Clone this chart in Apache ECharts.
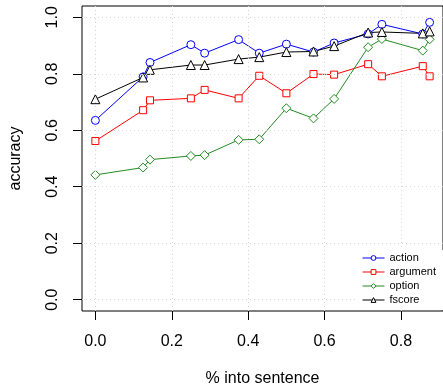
<!DOCTYPE html>
<html>
<head>
<meta charset="utf-8">
<script src="https://cdn.jsdelivr.net/npm/echarts@6/dist/echarts.min.js"></script>
<style>
  html, body { margin: 0; padding: 0; background: #fff; }
  #chart { width: 443px; height: 392px; }
</style>
</head>
<body>
<div id="chart"></div>
<script>
// position in sentence (fraction of words)
const positions = [0, 0.125, 0.143, 0.25, 0.286, 0.375, 0.429, 0.5, 0.571, 0.625, 0.714, 0.75, 0.857, 0.875];

const actionAcc   = [0.635, 0.789, 0.840, 0.903, 0.873, 0.921, 0.873, 0.905, 0.877, 0.909, 0.941, 0.975, 0.941, 0.982];
const argumentAcc = [0.562, 0.671, 0.706, 0.713, 0.743, 0.713, 0.793, 0.731, 0.799, 0.797, 0.834, 0.791, 0.827, 0.791];
const optionAcc   = [0.442, 0.468, 0.496, 0.509, 0.512, 0.566, 0.568, 0.678, 0.642, 0.711, 0.894, 0.923, 0.882, 0.922];
const fscoreAcc   = [0.710, 0.787, 0.814, 0.831, 0.831, 0.852, 0.859, 0.877, 0.879, 0.898, 0.946, 0.948, 0.943, 0.950];

const xTicks = [0, 0.2, 0.4, 0.6, 0.8];
const yTicks = [0, 0.2, 0.4, 0.6, 0.8, 1.0];

const font = 'Liberation Sans, Arial, sans-serif';

const chart = echarts.init(document.getElementById('chart'));

function pairs(ys) {
  return positions.map((x, i) => [x, ys[i]]);
}

function lineSeries(name, ys, color, symbol, size) {
  return {
    name: name,
    type: 'line',
    data: pairs(ys),
    symbol: symbol,
    symbolSize: size,
    showAllSymbol: true,
    lineStyle: { color: color, width: 1 },
    itemStyle: { color: '#fff', borderColor: color, borderWidth: 1 },
    emphasis: { disabled: true },
    z: 3
  };
}

const gridLine = { color: '#d3d3d3', width: 1, type: [1, 3] };

const option = {
  animation: false,
  backgroundColor: '#fff',
  grid: {
    left: 81,
    top: 6,
    width: 364,
    height: 306,
    show: true,
    borderColor: '#000',
    borderWidth: 1
  },
  legend: {
    data: ['action', 'argument', 'option', 'fscore'],
    orient: 'vertical',
    left: 358,
    top: 250,
    itemWidth: 22,
    itemHeight: 6,
    itemGap: 2,
    padding: [2, 8, 4, 4],
    backgroundColor: '#fff',
    itemStyle: { borderWidth: 1 },
    lineStyle: { width: 1 },
    textStyle: { fontFamily: font, fontSize: 11, color: '#000', lineHeight: 12 },
    z: 10
  },
  xAxis: {
    type: 'value',
    min: -0.035,
    max: 0.91,
    name: '% into sentence',
    nameLocation: 'middle',
    nameGap: 60,
    nameTextStyle: { fontFamily: font, fontSize: 16, color: '#000' },
    axisLine: { show: false, onZero: false },
    axisTick: { show: true, customValues: xTicks, length: 9, lineStyle: { color: '#000' } },
    axisLabel: {
      customValues: xTicks,
      formatter: v => v.toFixed(1),
      margin: 23,
      fontFamily: font, fontSize: 16, color: '#000'
    },
    splitLine: { show: false }
  },
  yAxis: {
    type: 'value',
    min: -0.04,
    max: 1.04,
    name: 'accuracy',
    nameLocation: 'middle',
    nameRotate: 90,
    nameGap: 58,
    nameTextStyle: { fontFamily: font, fontSize: 16, color: '#000' },
    axisLine: { show: false, onZero: false },
    axisTick: { show: true, customValues: yTicks, length: 9, lineStyle: { color: '#000' } },
    axisLabel: {
      customValues: yTicks,
      formatter: v => v.toFixed(1),
      rotate: 90,
      margin: 21,
      fontFamily: font, fontSize: 16, color: '#000'
    },
    splitLine: { show: false }
  },
  series: [
    {
      name: 'grid',
      type: 'line',
      data: [[positions[0], actionAcc[0]]],
      showSymbol: false,
      lineStyle: { opacity: 0 },
      silent: true,
      z: 1,
      markLine: {
        silent: true,
        symbol: ['none', 'none'],
        label: { show: false },
        lineStyle: gridLine,
        emphasis: { disabled: true },
        data: xTicks.map(v => ({ xAxis: v })).concat(yTicks.map(v => ({ yAxis: v })))
      }
    },
    lineSeries('action', actionAcc, '#0000ff', 'circle', 8),
    lineSeries('argument', argumentAcc, '#ff0000', 'rect', 7),
    lineSeries('option', optionAcc, '#228b22', 'diamond', 9),
    lineSeries('fscore', fscoreAcc, '#000000', 'triangle', 9)
  ]
};

chart.setOption(option);
</script>
</body>
</html>
